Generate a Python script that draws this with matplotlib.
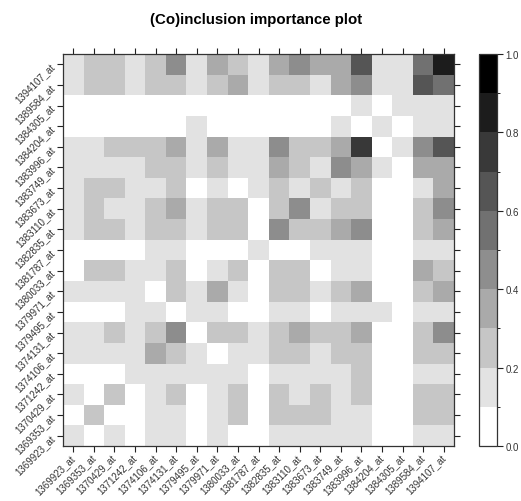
import numpy as np
import matplotlib
matplotlib.use("Agg")
import matplotlib.pyplot as plt
from matplotlib.colors import ListedColormap, BoundaryNorm

plt.rcParams['font.family'] = ['Liberation Sans', 'DejaVu Sans']

# probe sets, same order on both axes (bottom/left = first)
probes = ["1369923_at", "1369353_at", "1370429_at", "1371242_at", "1374106_at",
          "1374131_at", "1379495_at", "1379971_at", "1380033_at", "1381787_at",
          "1382835_at", "1383110_at", "1383673_at", "1383749_at", "1383996_at",
          "1384204_at", "1384305_at", "1389584_at", "1394107_at"]

# (co)inclusion frequencies, row i / column j follow the order of probes
importance = [
    [.15, 0, .15, 0, .15, .15, 0, .15, 0, 0, .15, .15, .15, .15, .15, 0, 0, .15, .15],
    [0, .25, 0, 0, .15, .15, 0, .15, .25, 0, .25, .25, .25, .15, .15, 0, 0, .25, .25],
    [.15, 0, .25, 0, .15, .25, 0, .15, .25, 0, .25, .15, .25, .15, .25, 0, 0, .25, .25],
    [0, 0, 0, .15, .15, .15, .15, .15, .15, 0, .15, .15, .15, .15, .25, 0, 0, .15, .15],
    [.15, .15, .15, .15, .35, .25, .15, 0, .15, .15, .25, .25, .15, .25, .25, 0, 0, .25, .25],
    [.15, .15, .25, .15, .25, .45, 0, .25, .25, .15, .25, .35, .25, .25, .35, 0, 0, .25, .45],
    [0, 0, 0, .15, .15, 0, .15, .15, 0, 0, .15, .15, 0, .15, .15, .15, 0, .15, .15],
    [.15, .15, .15, .15, 0, .25, .15, .35, .15, 0, .25, .25, .15, .25, .35, 0, 0, .25, .35],
    [0, .25, .25, .15, .15, .25, 0, .15, .25, 0, .25, .25, 0, .15, .15, 0, 0, .35, .25],
    [0, 0, 0, 0, .15, .15, 0, 0, 0, .15, 0, 0, .15, .15, .15, 0, 0, .15, .15],
    [.15, .25, .25, .15, .25, .25, .15, .25, .25, 0, .45, .25, .25, .35, .45, 0, 0, .25, .35],
    [.15, .25, .15, .15, .25, .35, .15, .25, .25, 0, .25, .45, .15, .25, .25, 0, 0, .25, .45],
    [.15, .25, .25, .15, .15, .25, 0, .15, 0, .15, .25, .15, .25, .15, .25, 0, 0, .15, .35],
    [.15, .15, .15, .15, .25, .25, .15, .25, .15, .15, .35, .25, .15, .45, .35, .15, 0, .35, .35],
    [.15, .15, .25, .25, .25, .35, .15, .35, .15, .15, .45, .25, .25, .35, .75, 0, .15, .45, .65],
    [0, 0, 0, 0, 0, 0, .15, 0, 0, 0, 0, 0, 0, .15, 0, .15, 0, .15, .15],
    [0, 0, 0, 0, 0, 0, 0, 0, 0, 0, 0, 0, 0, 0, .15, 0, .15, .15, .15],
    [.15, .25, .25, .15, .25, .25, .15, .25, .35, .15, .25, .25, .15, .35, .45, .15, .15, .65, .55],
    [.15, .25, .25, .15, .25, .45, .15, .35, .25, .15, .35, .45, .35, .35, .65, .15, .15, .55, .85],
]

cuts = np.linspace(0, 1, 11)
cb_ticks = [0.0, 0.2, 0.4, 0.6, 0.8, 1.0]

W, H = 521, 502
fig = plt.figure(figsize=(W / 100, H / 100), dpi=100)

ax = fig.add_axes([63 / W, 1 - 447 / H, 391 / W, 392 / H])
greys = np.linspace(1, 0, 10)
cmap = ListedColormap([(g, g, g) for g in greys])
norm = BoundaryNorm(cuts, cmap.N)
im = ax.imshow(np.array(importance), origin='lower', cmap=cmap, norm=norm,
               aspect='auto', interpolation='nearest')

n = len(probes)
ax.set_xticks(range(n))
ax.set_yticks(range(n))
ax.set_xticklabels(probes, rotation=45, ha='right', va='center', rotation_mode='anchor')
ax.set_yticklabels(probes, rotation=45, ha='right', va='center', rotation_mode='anchor')
ax.tick_params(direction='out', length=4.5, width=0.8, top=True, right=True,
               labeltop=False, labelright=False, labelsize=7, pad=2.5,
               colors='#222222', labelcolor='#333333')
for sp in ax.spines.values():
    sp.set_color('#333333')
    sp.set_linewidth(0.9)

# colour key
cax = fig.add_axes([479 / W, 1 - 447 / H, 18 / W, 392 / H])
cb = fig.colorbar(im, cax=cax, ticks=cb_ticks, format='%.1f')
cb.ax.tick_params(direction='out', length=4, width=0.8, labelsize=7, pad=2,
                  colors='#222222', labelcolor='#333333')
cb.outline.set_edgecolor('#333333')
cb.outline.set_linewidth(0.9)

fig.text(256 / W, 1 - 20 / H, "(Co)inclusion importance plot",
         ha='center', va='center', fontsize=10.8, fontweight='bold')

fig.savefig("out.png", dpi=100)
